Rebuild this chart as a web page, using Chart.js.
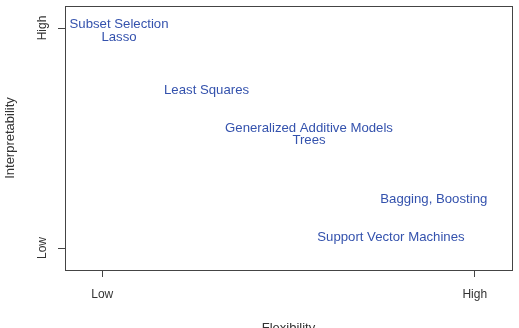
<!DOCTYPE html>
<html>
<head>
<meta charset="utf-8">
<script src="https://cdn.jsdelivr.net/npm/chart.js@4"></script>
<style>
  html, body { margin: 0; padding: 0; background: #fff; }
  #wrap { width: 519px; height: 328px; }
</style>
</head>
<body>
<div id="wrap"><canvas id="tradeoff"></canvas></div>
<script>
const methods = ["Subset Selection", "Lasso", "Least Squares", "Generalized Additive Models",
  "Trees", "Bagging, Boosting", "Support Vector Machines"];
const flexibility = [0.45, 0.45, 2.8, 5.55, 5.55, 8.9, 7.75];
const interpretability = [10.15, 9.57, 7.15, 5.45, 4.9, 2.2, 0.5];
const tickValues = [0, 10];
const tickLabels = ["Low", "High"];

const axisColor = "#444";
const labelBlue = "#3452ad";

// write each method name at its point, and frame the plot area like R's box()
const methodText = {
  id: "methodText",
  afterDatasetsDraw(chart) {
    const ctx = chart.ctx;
    const pts = chart.getDatasetMeta(0).data;
    ctx.save();
    ctx.font = "13.2px 'Liberation Sans', Arial, sans-serif";
    ctx.fillStyle = labelBlue;
    ctx.textAlign = "center";
    ctx.textBaseline = "middle";
    pts.forEach((p, i) => ctx.fillText(methods[i], p.x, p.y));
    const a = chart.chartArea;
    ctx.strokeStyle = axisColor;
    ctx.lineWidth = 1;
    ctx.strokeRect(Math.round(a.left) + 0.5, Math.round(a.top) + 0.5,
      Math.round(a.right - a.left), Math.round(a.bottom - a.top));
    ctx.restore();
  }
};

function fixedTicks(scale) {
  scale.ticks = tickValues.map(v => ({ value: v }));
}

new Chart(document.getElementById("tradeoff"), {
  type: "scatter",
  data: {
    datasets: [{
      data: flexibility.map((x, i) => ({ x, y: interpretability[i] })),
      pointRadius: 0,
      pointHoverRadius: 0,
    }],
  },
  options: {
    responsive: true,
    maintainAspectRatio: false,
    animation: false,
    events: [],
    layout: { padding: { top: 6, right: 7, left: 0, bottom: -8 } },
    plugins: { legend: { display: false }, tooltip: { enabled: false } },
    scales: {
      x: {
        type: "linear",
        min: -1,
        max: 11,
        afterBuildTicks: fixedTicks,
        afterFit(scale) {
          scale.height = 66;
          scale.paddingLeft = 0;
          scale.paddingRight = 0;
        },
        border: { display: false },
        grid: { drawOnChartArea: false, drawTicks: true, tickLength: 7, color: axisColor },
        ticks: {
          padding: 10,
          color: "#333",
          font: { family: "'Liberation Sans', Arial, sans-serif", size: 12 },
          callback: (v) => tickLabels[tickValues.indexOf(v)],
        },
        title: {
          display: true,
          text: "Flexibility",
          color: "#333",
          padding: 0,
          font: { family: "'Liberation Sans', Arial, sans-serif", size: 13 },
        },
      },
      y: {
        type: "linear",
        min: -1,
        max: 11,
        afterBuildTicks: fixedTicks,
        afterFit(scale) {
          scale.width = 65;
          scale.paddingTop = 0;
          scale.paddingBottom = 0;
        },
        border: { display: false },
        grid: { drawOnChartArea: false, drawTicks: true, tickLength: 7, color: axisColor },
        ticks: {
          padding: 3,
          minRotation: 90,
          maxRotation: 90,
          crossAlign: "center",
          color: "#333",
          font: { family: "'Liberation Sans', Arial, sans-serif", size: 12 },
          callback: (v) => tickLabels[tickValues.indexOf(v)],
        },
        title: {
          display: true,
          text: "Interpretability",
          color: "#333",
          padding: 3,
          font: { family: "'Liberation Sans', Arial, sans-serif", size: 13 },
        },
      },
    },
  },
  plugins: [methodText],
});
</script>
</body>
</html>
